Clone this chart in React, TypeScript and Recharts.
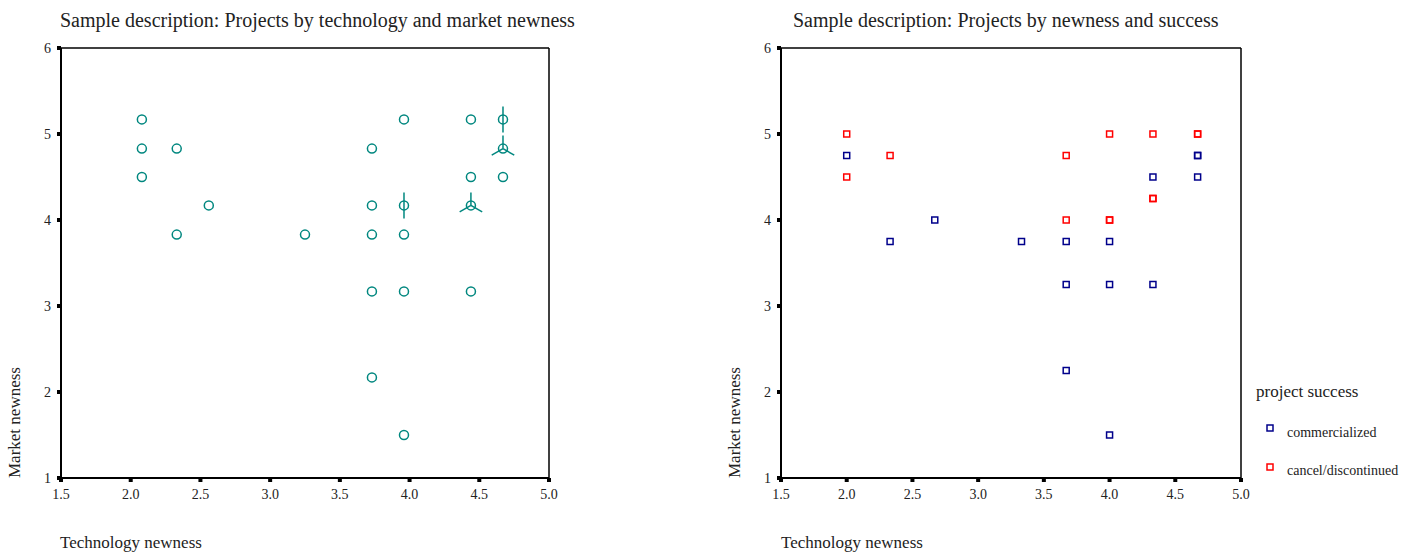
import React from 'react';
import { ScatterChart, Scatter, XAxis, YAxis, ReferenceLine } from 'recharts';

// left chart: technology vs market newness (count = cases at the same spot)
const leftTech = [2.08, 2.08, 2.08, 2.33, 2.33, 2.56, 3.25, 3.73, 3.73, 3.73, 3.73, 3.73, 3.96, 3.96, 3.96, 3.96, 3.96, 4.44, 4.44, 4.44, 4.44, 4.67, 4.67, 4.67];
const leftMarket = [5.17, 4.83, 4.5, 4.83, 3.83, 4.17, 3.83, 4.83, 4.17, 3.83, 3.17, 2.17, 5.17, 4.17, 3.83, 3.17, 1.5, 5.17, 4.5, 4.17, 3.17, 5.17, 4.83, 4.5];
const leftCount = [1, 1, 1, 1, 1, 1, 1, 1, 1, 1, 1, 1, 1, 2, 1, 1, 1, 1, 1, 3, 1, 2, 3, 1];

// right chart: by project success
const commTech = [2.0, 2.33, 2.67, 3.33, 3.67, 3.67, 3.67, 4.0, 4.0, 4.0, 4.33, 4.33, 4.67, 4.67, 4.67];
const commMarket = [4.75, 3.75, 4.0, 3.75, 3.75, 3.25, 2.25, 3.75, 3.25, 1.5, 4.5, 3.25, 4.75, 4.75, 4.5];
const cancTech = [2.0, 2.0, 2.33, 3.67, 3.67, 4.0, 4.0, 4.0, 4.33, 4.33, 4.33, 4.67, 4.67];
const cancMarket = [5.0, 4.5, 4.75, 4.75, 4.0, 5.0, 4.0, 4.0, 5.0, 4.25, 4.25, 5.0, 5.0];

const xTicks = [1.5, 2.0, 2.5, 3.0, 3.5, 4.0, 4.5, 5.0];
const yTicks = [1, 2, 3, 4, 5, 6];

const leftData = leftTech.map((x, i) => ({ x, y: leftMarket[i], n: leftCount[i] }));
const commData = commTech.map((x, i) => ({ x, y: commMarket[i] }));
const cancData = cancTech.map((x, i) => ({ x, y: cancMarket[i] }));

const FONT = '"Liberation Serif", "Times New Roman", serif';
const TEAL = '#00877f';
const NAVY = '#00008b';
const RED = '#ff0000';

const XTick = (props: any) => {
    const { x, y, payload } = props;
    return (
        <g>
            <rect x={x - 2} y={y} width={4} height={4} fill="#000" />
            <text x={x} y={y + 21} textAnchor="middle" fontSize={14} fontFamily={FONT} fill="#222">
                {Number(payload.value).toFixed(1)}
            </text>
        </g>
    );
};

const YTick = (props: any) => {
    const { x, y, payload } = props;
    return (
        <g>
            <rect x={x - 4} y={y - 2} width={4} height={4} fill="#000" />
            <text x={x - 10} y={y + 5} textAnchor="end" fontSize={14} fontFamily={FONT} fill="#222">
                {payload.value}
            </text>
        </g>
    );
};

const Sunflower = (props: any) => {
    const { cx, cy, payload } = props;
    const L = 13;
    return (
        <g stroke={TEAL} strokeWidth={1.5} fill="none">
            <circle cx={cx} cy={cy} r={4.5} fill="#fff" />
            {payload.n === 2 && <line x1={cx} y1={cy - L} x2={cx} y2={cy + L} />}
            {payload.n === 3 && (
                <>
                    <line x1={cx} y1={cy} x2={cx} y2={cy - L} />
                    <line x1={cx} y1={cy} x2={cx - L * 0.866} y2={cy + L * 0.5} />
                    <line x1={cx} y1={cy} x2={cx + L * 0.866} y2={cy + L * 0.5} />
                </>
            )}
        </g>
    );
};

const squareShape = (color: string) => (props: any) => {
    const { cx, cy } = props;
    return <rect x={cx - 3} y={cy - 3} width={6} height={6} fill="none" stroke={color} strokeWidth={1.5} />;
};

const axisCommon = {
    type: 'number' as const,
    tickSize: 0,
    tickMargin: 0,
    axisLine: { stroke: '#000', strokeWidth: 2 },
    tickLine: false,
    interval: 0 as const,
};

const textStyle: React.CSSProperties = { position: 'absolute', fontFamily: FONT, color: '#222', whiteSpace: 'nowrap' };

const App: React.FC = () => {
    return (
        <div style={{ position: 'absolute', left: 0, top: 0, width: 1418, height: 555, background: '#fff', overflow: 'hidden' }}>
            <div style={{ ...textStyle, left: 60, top: 7, fontSize: 20, lineHeight: '26px' }}>
                Sample description: Projects by technology and market newness
            </div>
            <div style={{ ...textStyle, left: 793, top: 7, fontSize: 20, lineHeight: '26px' }}>
                Sample description: Projects by newness and success
            </div>

            <div style={{ position: 'absolute', left: 0, top: 0 }}>
                <ScatterChart width={600} height={555} margin={{ top: 48, right: 51, bottom: 47, left: 41 }}>
                    <XAxis {...axisCommon} dataKey="x" domain={[1.5, 5]} ticks={xTicks} height={30} tick={<XTick />} />
                    <YAxis {...axisCommon} dataKey="y" domain={[1, 6]} ticks={yTicks} width={20} tick={<YTick />} />
                    <ReferenceLine y={6} stroke="#000" strokeWidth={1.5} />
                    <ReferenceLine x={5} stroke="#000" strokeWidth={1.5} />
                    <Scatter data={leftData} shape={<Sunflower />} isAnimationActive={false} />
                </ScatterChart>
            </div>

            <div style={{ position: 'absolute', left: 700, top: 0 }}>
                <ScatterChart width={600} height={555} margin={{ top: 48, right: 59, bottom: 47, left: 61 }}>
                    <XAxis {...axisCommon} dataKey="x" domain={[1.5, 5]} ticks={xTicks} height={30} tick={<XTick />} />
                    <YAxis {...axisCommon} dataKey="y" domain={[1, 6]} ticks={yTicks} width={20} tick={<YTick />} />
                    <ReferenceLine y={6} stroke="#000" strokeWidth={1.5} />
                    <ReferenceLine x={5} stroke="#000" strokeWidth={1.5} />
                    <Scatter name="commercialized" data={commData} shape={squareShape(NAVY)} isAnimationActive={false} />
                    <Scatter name="cancel/discontinued" data={cancData} shape={squareShape(RED)} isAnimationActive={false} />
                </ScatterChart>
            </div>

            <div style={{ ...textStyle, left: 60, top: 533, fontSize: 17, lineHeight: '20px' }}>Technology newness</div>
            <div style={{ ...textStyle, left: 781, top: 533, fontSize: 17, lineHeight: '20px' }}>Technology newness</div>
            <div style={{ ...textStyle, left: 6, top: 478, fontSize: 17, lineHeight: '18px', transformOrigin: 'left top', transform: 'rotate(-90deg)' }}>
                Market newness
            </div>
            <div style={{ ...textStyle, left: 726, top: 478, fontSize: 17, lineHeight: '18px', transformOrigin: 'left top', transform: 'rotate(-90deg)' }}>
                Market newness
            </div>

            <div style={{ ...textStyle, left: 1256, top: 381, fontSize: 17, lineHeight: '22px' }}>project success</div>
            <svg style={{ position: 'absolute', left: 1264, top: 422 }} width={12} height={50}>
                <rect x={3} y={3} width={6} height={6} fill="none" stroke={NAVY} strokeWidth={1.5} />
                <rect x={3} y={42} width={6} height={6} fill="none" stroke={RED} strokeWidth={1.5} />
            </svg>
            <div style={{ ...textStyle, left: 1287, top: 424, fontSize: 14, lineHeight: '18px' }}>commercialized</div>
            <div style={{ ...textStyle, left: 1287, top: 462, fontSize: 14, lineHeight: '18px' }}>cancel/discontinued</div>
        </div>
    );
};

export default App;
